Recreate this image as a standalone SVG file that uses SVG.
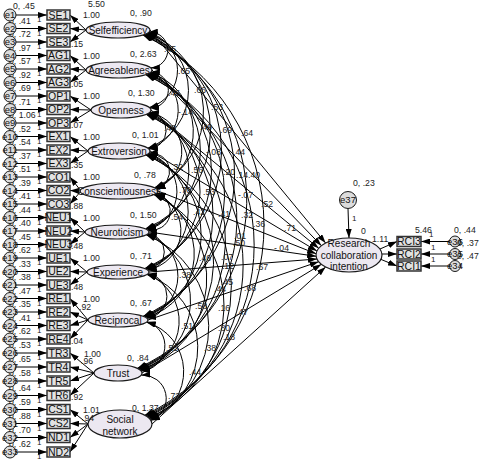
<svg xmlns="http://www.w3.org/2000/svg" width="479" height="460" viewBox="0 0 479 460">
<style>
text{font-family:"Liberation Sans",Arial,sans-serif;fill:#111}
.lat{fill:#ece8f1;stroke:#1a1a1a;stroke-width:1.2}
.obs{fill:#e2e2e2;stroke:#333;stroke-width:1.5}
.err{fill:#dcdcdc;stroke:#1a1a1a;stroke-width:1}
.arc{fill:none;stroke:#000;stroke-width:1;marker-start:url(#ah);marker-end:url(#ah)}
.arr{fill:none;stroke:#000;stroke-width:1;marker-end:url(#ah)}
.ln{font-size:10px;text-anchor:middle}
.on{font-size:10.5px;text-anchor:middle}
.en{font-size:9.5px;text-anchor:middle}
.n{font-size:8.7px;fill:#222}
.one{font-size:8px;fill:#222}
</style>
<defs>
<marker id="ah" markerUnits="userSpaceOnUse" markerWidth="9" markerHeight="6" refX="9" refY="3" orient="auto-start-reverse"><path d="M0,0 L9,3 L0,6 z" fill="#000"/></marker>
</defs>
<g id="connectors">
<line class="arr" x1="16" y1="15" x2="47" y2="15"/><line class="arr" x1="16" y1="28.5" x2="47" y2="28.5"/><line class="arr" x1="16" y1="42" x2="47" y2="42"/>
<line class="arr" x1="16" y1="55.5" x2="47" y2="55.5"/><line class="arr" x1="16" y1="69" x2="47" y2="69"/><line class="arr" x1="16" y1="82.5" x2="47" y2="82.5"/>
<line class="arr" x1="16" y1="96" x2="47" y2="96"/><line class="arr" x1="16" y1="109.5" x2="47" y2="109.5"/><line class="arr" x1="16" y1="123" x2="47" y2="123"/>
<line class="arr" x1="16" y1="136.5" x2="47" y2="136.5"/><line class="arr" x1="16" y1="150" x2="47" y2="150"/><line class="arr" x1="16" y1="163.5" x2="47" y2="163.5"/>
<line class="arr" x1="16" y1="177" x2="47" y2="177"/><line class="arr" x1="16" y1="190.5" x2="47" y2="190.5"/><line class="arr" x1="16" y1="204" x2="47" y2="204"/>
<line class="arr" x1="16" y1="217.5" x2="47" y2="217.5"/><line class="arr" x1="16" y1="231" x2="47" y2="231"/><line class="arr" x1="16" y1="244.5" x2="47" y2="244.5"/>
<line class="arr" x1="16" y1="258" x2="47" y2="258"/><line class="arr" x1="16" y1="271.5" x2="47" y2="271.5"/><line class="arr" x1="16" y1="285" x2="47" y2="285"/>
<line class="arr" x1="16" y1="298.5" x2="47" y2="298.5"/><line class="arr" x1="16" y1="312" x2="47" y2="312"/><line class="arr" x1="16" y1="325.5" x2="47" y2="325.5"/><line class="arr" x1="16" y1="339" x2="47" y2="339"/>
<line class="arr" x1="16" y1="353" x2="47" y2="353"/><line class="arr" x1="16" y1="367" x2="47" y2="367"/><line class="arr" x1="16" y1="381" x2="47" y2="381"/><line class="arr" x1="16" y1="395.5" x2="47" y2="395.5"/>
<line class="arr" x1="16" y1="409.5" x2="47" y2="409.5"/><line class="arr" x1="16" y1="423.5" x2="47" y2="423.5"/><line class="arr" x1="16" y1="437.5" x2="47" y2="437.5"/><line class="arr" x1="16" y1="452" x2="47" y2="452"/>
<line class="arr" x1="86" y1="30" x2="70" y2="15"/><line class="arr" x1="86" y1="30" x2="70" y2="28.5"/><line class="arr" x1="86" y1="30" x2="70" y2="42"/>
<line class="arr" x1="86" y1="70" x2="70" y2="55.5"/><line class="arr" x1="86" y1="70" x2="70" y2="69"/><line class="arr" x1="86" y1="70" x2="70" y2="82.5"/>
<line class="arr" x1="91" y1="110" x2="70" y2="96"/><line class="arr" x1="91" y1="110" x2="70" y2="109.5"/><line class="arr" x1="91" y1="110" x2="70" y2="123"/>
<line class="arr" x1="88" y1="151" x2="70" y2="136.5"/><line class="arr" x1="88" y1="151" x2="70" y2="150"/><line class="arr" x1="88" y1="151" x2="70" y2="163.5"/>
<line class="arr" x1="81" y1="191" x2="70" y2="177"/><line class="arr" x1="81" y1="191" x2="70" y2="190.5"/><line class="arr" x1="81" y1="191" x2="70" y2="204"/>
<line class="arr" x1="85" y1="232" x2="70" y2="217.5"/><line class="arr" x1="85" y1="232" x2="70" y2="231"/><line class="arr" x1="85" y1="232" x2="70" y2="244.5"/>
<line class="arr" x1="87" y1="272" x2="70" y2="258"/><line class="arr" x1="87" y1="272" x2="70" y2="271.5"/><line class="arr" x1="87" y1="272" x2="70" y2="285"/>
<line class="arr" x1="88" y1="320" x2="70" y2="298.5"/><line class="arr" x1="88" y1="320" x2="70" y2="312"/><line class="arr" x1="88" y1="320" x2="70" y2="325.5"/><line class="arr" x1="88" y1="320" x2="70" y2="339"/>
<line class="arr" x1="94" y1="373" x2="70" y2="353"/><line class="arr" x1="94" y1="373" x2="70" y2="367"/><line class="arr" x1="94" y1="373" x2="70" y2="381"/><line class="arr" x1="94" y1="373" x2="70" y2="395.5"/>
<line class="arr" x1="88" y1="424" x2="70" y2="409.5"/><line class="arr" x1="88" y1="424" x2="70" y2="423.5"/><line class="arr" x1="88" y1="424" x2="70" y2="437.5"/><line class="arr" x1="88" y1="424" x2="70" y2="452"/>
<path class="arc" d="M148.9,32.1 A17.9,17.9 0 0 1 150.9,67.9"/>
<path class="arc" d="M150.9,72.1 A17.9,17.9 0 0 1 150,107.9"/>
<path class="arc" d="M150,112.1 A18.5,18.5 0 0 1 148.9,148.9"/>
<path class="arc" d="M148.9,153.1 A18.4,18.4 0 0 1 156.7,188.9"/>
<path class="arc" d="M156.7,193.1 A19.1,19.1 0 0 1 147.9,230.2"/>
<path class="arc" d="M147.9,233.8 A18.3,18.3 0 0 1 147.9,270.2"/>
<path class="arc" d="M147.9,273.8 A22.4,22.4 0 0 1 147,318.2"/>
<path class="arc" d="M147,321.8 A25.1,25.1 0 0 1 141.2,370.9"/>
<path class="arc" d="M141.2,375.1 A23.4,23.4 0 0 1 150.9,420.4"/>
<path class="arc" d="M148.4,32.5 A38.9,38.9 0 0 1 149.5,107.5"/>
<path class="arc" d="M150.4,72.5 A39.5,39.5 0 0 1 148.5,148.5"/>
<path class="arc" d="M149.5,112.5 A39.6,39.6 0 0 1 156.1,188.5"/>
<path class="arc" d="M148.5,153.5 A39.6,39.6 0 0 1 147.4,229.8"/>
<path class="arc" d="M156.1,193.5 A39.9,39.9 0 0 1 147.5,269.8"/>
<path class="arc" d="M147.4,234.2 A43.7,43.7 0 0 1 146.5,317.8"/>
<path class="arc" d="M147.5,274.2 A50.8,50.8 0 0 1 140.8,370.5"/>
<path class="arc" d="M146.5,322.2 A51.4,51.4 0 0 1 150.4,419.7"/>
<path class="arc" d="M147.9,32.9 A61.2,61.2 0 0 1 148,148.1"/>
<path class="arc" d="M149.8,72.9 A61.2,61.2 0 0 1 155.4,188.1"/>
<path class="arc" d="M149,112.9 A62,62 0 0 1 146.9,229.5"/>
<path class="arc" d="M148,153.9 A61.4,61.4 0 0 1 147,269.5"/>
<path class="arc" d="M155.4,193.9 A65.9,65.9 0 0 1 146,317.5"/>
<path class="arc" d="M146.9,234.5 A72.6,72.6 0 0 1 140.4,370.1"/>
<path class="arc" d="M147,274.5 A77.6,77.6 0 0 1 149.9,419"/>
<path class="arc" d="M147.2,33.3 A83.1,83.1 0 0 1 154.6,187.7"/>
<path class="arc" d="M149.2,73.3 A84,84 0 0 1 146.2,229.2"/>
<path class="arc" d="M148.4,113.3 A84,84 0 0 1 146.3,269.2"/>
<path class="arc" d="M147.3,154.3 A87.9,87.9 0 0 1 145.4,317.2"/>
<path class="arc" d="M154.6,194.3 A94.9,94.9 0 0 1 139.9,369.7"/>
<path class="arc" d="M146.2,234.8 A99.5,99.5 0 0 1 149.2,418.3"/>
<path class="arc" d="M146.5,33.6 A106.1,106.1 0 0 1 145.5,228.8"/>
<path class="arc" d="M148.4,73.6 A106.1,106.1 0 0 1 145.6,268.8"/>
<path class="arc" d="M147.7,113.6 A110.6,110.6 0 0 1 144.7,316.8"/>
<path class="arc" d="M146.6,154.6 A117.1,117.1 0 0 1 139.4,369.4"/>
<path class="arc" d="M153.7,194.6 A121.7,121.7 0 0 1 148.5,417.6"/>
<path class="arc" d="M145.7,34 A128.2,128.2 0 0 1 144.8,268.5"/>
<path class="arc" d="M147.6,74 A132.7,132.7 0 0 1 144,316.5"/>
<path class="arc" d="M147,114 A139.8,139.8 0 0 1 138.8,369"/>
<path class="arc" d="M145.8,155 A143.7,143.7 0 0 1 147.7,417"/>
<path class="arc" d="M144.8,34.4 A154.9,154.9 0 0 1 143.2,316.2"/>
<path class="arc" d="M146.7,74.4 A161.9,161.9 0 0 1 138.1,368.6"/>
<path class="arc" d="M146.2,114.4 A166.3,166.3 0 0 1 146.8,416.4"/>
<path class="arc" d="M143.9,34.7 A184.2,184.2 0 0 1 137.4,368.3"/>
<path class="arc" d="M145.7,74.7 A188.4,188.4 0 0 1 145.9,415.8"/>
<path class="arc" d="M142.9,35 A210.5,210.5 0 0 1 144.9,415.2"/>
<line class="arr" x1="150" y1="30" x2="325.6" y2="243"/>
<line class="arr" x1="152" y1="70" x2="321.4" y2="245.7"/>
<line class="arr" x1="151" y1="110" x2="318.7" y2="248.3"/>
<line class="arr" x1="150" y1="151" x2="316.9" y2="251"/>
<line class="arr" x1="158" y1="191" x2="316.1" y2="253.7"/>
<line class="arr" x1="149" y1="232" x2="316.1" y2="256.3"/>
<line class="arr" x1="149" y1="272" x2="316.9" y2="259"/>
<line class="arr" x1="148" y1="320" x2="318.7" y2="261.7"/>
<line class="arr" x1="142" y1="373" x2="321.4" y2="264.3"/>
<line class="arr" x1="152" y1="424" x2="325.6" y2="267"/>
<line class="arr" x1="348" y1="208.5" x2="349" y2="238"/>
<line class="arr" x1="380" y1="249" x2="397" y2="241.5"/>
<line class="arr" x1="382" y1="254" x2="397" y2="254"/>
<line class="arr" x1="380" y1="259" x2="397" y2="266"/>
<line class="arr" x1="449.5" y1="241.5" x2="421" y2="241.5"/>
<line class="arr" x1="449.5" y1="254" x2="421" y2="254"/>
<line class="arr" x1="449.5" y1="266" x2="421" y2="266"/>
</g>
<g id="error-labels">
<text class="n" x="13" y="9">0, .45</text><text class="n" x="9" y="23.5">0, .41</text><text class="n" x="9" y="37">0, .72</text><text class="n" x="9" y="50.5">0, .97</text><text class="n" x="9" y="64">0, .57</text><text class="n" x="9" y="77.5">0, .92</text><text class="n" x="9" y="91">0, .69</text><text class="n" x="9" y="104.5">0, .71</text><text class="n" x="9" y="118">0, 1.06</text><text class="n" x="9" y="131.5">0, .52</text><text class="n" x="9" y="145">0, .54</text><text class="n" x="9" y="158.5">0, .37</text><text class="n" x="9" y="172">0, .51</text><text class="n" x="9" y="185.5">0, .39</text><text class="n" x="9" y="199">0, .41</text><text class="n" x="9" y="212.5">0, .44</text><text class="n" x="9" y="226">0, .40</text><text class="n" x="9" y="239.5">0, .45</text><text class="n" x="9" y="253">0, .62</text><text class="n" x="9" y="266.5">0, .33</text><text class="n" x="9" y="280">0, .38</text><text class="n" x="9" y="293.5">0, .47</text><text class="n" x="9" y="307">0, .35</text><text class="n" x="9" y="320.5">0, .41</text><text class="n" x="9" y="334">0, .62</text><text class="n" x="9" y="348">0, .53</text><text class="n" x="9" y="362">0, .65</text><text class="n" x="9" y="376">0, .58</text><text class="n" x="9" y="390.5">0, .64</text><text class="n" x="9" y="404.5">0, .59</text><text class="n" x="9" y="418.5">0, .88</text><text class="n" x="9" y="432.5">0, .70</text><text class="n" x="9" y="447">0, .62</text>
<text class="one" x="37" y="22">1</text><text class="one" x="37" y="35.5">1</text><text class="one" x="37" y="49">1</text><text class="one" x="37" y="62.5">1</text><text class="one" x="37" y="76">1</text><text class="one" x="37" y="89.5">1</text><text class="one" x="37" y="103">1</text><text class="one" x="37" y="116.5">1</text><text class="one" x="37" y="130">1</text><text class="one" x="37" y="143.5">1</text><text class="one" x="37" y="157">1</text><text class="one" x="37" y="170.5">1</text><text class="one" x="37" y="184">1</text><text class="one" x="37" y="197.5">1</text><text class="one" x="37" y="211">1</text><text class="one" x="37" y="224.5">1</text><text class="one" x="37" y="238">1</text><text class="one" x="37" y="251.5">1</text><text class="one" x="37" y="265">1</text><text class="one" x="37" y="278.5">1</text><text class="one" x="37" y="292">1</text><text class="one" x="37" y="305.5">1</text><text class="one" x="37" y="319">1</text><text class="one" x="37" y="332.5">1</text><text class="one" x="37" y="346">1</text><text class="one" x="37" y="360">1</text><text class="one" x="37" y="374">1</text><text class="one" x="37" y="388">1</text><text class="one" x="37" y="402.5">1</text><text class="one" x="37" y="416.5">1</text><text class="one" x="37" y="430.5">1</text><text class="one" x="37" y="444.5">1</text><text class="one" x="37" y="459">1</text>
</g>
<g id="Selfefficiency"><ellipse class="lat" cx="118" cy="30" rx="32" ry="8"/><text class="ln" x="118" y="33.6">Selfefficiency</text></g>
<g id="Agreeableness"><ellipse class="lat" cx="119" cy="70" rx="33" ry="8"/><text class="ln" x="119" y="73.6">Agreeablenes</text></g>
<g id="Openness"><ellipse class="lat" cx="121" cy="110" rx="30" ry="8"/><text class="ln" x="121" y="113.6">Openness</text></g>
<g id="Extroversion"><ellipse class="lat" cx="119" cy="151" rx="31" ry="8"/><text class="ln" x="119" y="154.6">Extroversion</text></g>
<g id="Conscientiousness"><ellipse class="lat" cx="119" cy="191" rx="39" ry="8"/><text class="ln" x="119" y="194.6">Conscientiousness</text></g>
<g id="Neuroticism"><ellipse class="lat" cx="117" cy="232" rx="32" ry="7"/><text class="ln" x="117" y="235.6">Neuroticism</text></g>
<g id="Experience"><ellipse class="lat" cx="118" cy="272" rx="31" ry="7"/><text class="ln" x="118" y="275.6">Experience</text></g>
<g id="Reciprocal"><ellipse class="lat" cx="118" cy="320" rx="30" ry="7"/><text class="ln" x="118" y="323.6">Reciprocal</text></g>
<g id="Trust"><ellipse class="lat" cx="118" cy="373" rx="24" ry="8"/><text class="ln" x="118" y="376.6">Trust</text></g>
<g id="SocialNetwork"><ellipse class="lat" cx="120" cy="424" rx="32" ry="14"/><text class="ln" x="120" y="423">Social</text><text class="ln" x="120" y="434.5">network</text></g>
<g id="RCI"><ellipse class="lat" cx="349" cy="255" rx="33" ry="17"/><text class="ln" x="349" y="246.5">Research</text><text class="ln" x="349" y="258.5">collaboration</text><text class="ln" x="349" y="269.5">intention</text></g>
<g id="e37"><circle class="err" cx="348" cy="200" r="8.5"/><text class="en" x="348" y="203.4">e37</text></g>
<g id="RCI3"><rect class="obs" x="397" y="236.5" width="24" height="10"/><text class="on" x="409" y="245.2">RCI3</text></g>
<g id="RCI2"><rect class="obs" x="397" y="249" width="24" height="10"/><text class="on" x="409" y="257.7">RCI2</text></g>
<g id="RCI1"><rect class="obs" x="397" y="261" width="24" height="10"/><text class="on" x="409" y="269.7">RCI1</text></g>
<g id="e36"><circle class="err" cx="455" cy="241.5" r="5.5"/><text class="en" x="455" y="244.9">e36</text></g>
<g id="e35"><circle class="err" cx="455" cy="254" r="5.5"/><text class="en" x="455" y="257.4">e35</text></g>
<g id="e34"><circle class="err" cx="455" cy="266" r="5.5"/><text class="en" x="455" y="269.4">e34</text></g>
<g id="SE1"><rect class="obs" x="47" y="10" width="23" height="10"/><text class="on" x="58.5" y="18.7">SE1</text></g>
<g id="SE2"><rect class="obs" x="47" y="23.5" width="23" height="10"/><text class="on" x="58.5" y="32.2">SE2</text></g>
<g id="SE3"><rect class="obs" x="47" y="37" width="23" height="10"/><text class="on" x="58.5" y="45.7">SE3</text></g>
<g id="AG1"><rect class="obs" x="47" y="50.5" width="23" height="10"/><text class="on" x="58.5" y="59.2">AG1</text></g>
<g id="AG2"><rect class="obs" x="47" y="64" width="23" height="10"/><text class="on" x="58.5" y="72.7">AG2</text></g>
<g id="AG3"><rect class="obs" x="47" y="77.5" width="23" height="10"/><text class="on" x="58.5" y="86.2">AG3</text></g>
<g id="OP1"><rect class="obs" x="47" y="91" width="23" height="10"/><text class="on" x="58.5" y="99.7">OP1</text></g>
<g id="OP2"><rect class="obs" x="47" y="104.5" width="23" height="10"/><text class="on" x="58.5" y="113.2">OP2</text></g>
<g id="OP3"><rect class="obs" x="47" y="118" width="23" height="10"/><text class="on" x="58.5" y="126.7">OP3</text></g>
<g id="EX1"><rect class="obs" x="47" y="131.5" width="23" height="10"/><text class="on" x="58.5" y="140.2">EX1</text></g>
<g id="EX2"><rect class="obs" x="47" y="145" width="23" height="10"/><text class="on" x="58.5" y="153.7">EX2</text></g>
<g id="EX3"><rect class="obs" x="47" y="158.5" width="23" height="10"/><text class="on" x="58.5" y="167.2">EX3</text></g>
<g id="CO1"><rect class="obs" x="47" y="172" width="23" height="10"/><text class="on" x="58.5" y="180.7">CO1</text></g>
<g id="CO2"><rect class="obs" x="47" y="185.5" width="23" height="10"/><text class="on" x="58.5" y="194.2">CO2</text></g>
<g id="CO3"><rect class="obs" x="47" y="199" width="23" height="10"/><text class="on" x="58.5" y="207.7">CO3</text></g>
<g id="NEU1"><rect class="obs" x="47" y="212.5" width="23" height="10"/><text class="on" x="58.5" y="221.2">NEU1</text></g>
<g id="NEU2"><rect class="obs" x="47" y="226" width="23" height="10"/><text class="on" x="58.5" y="234.7">NEU2</text></g>
<g id="NEU3"><rect class="obs" x="47" y="239.5" width="23" height="10"/><text class="on" x="58.5" y="248.2">NEU3</text></g>
<g id="UE1"><rect class="obs" x="47" y="253" width="23" height="10"/><text class="on" x="58.5" y="261.7">UE1</text></g>
<g id="UE2"><rect class="obs" x="47" y="266.5" width="23" height="10"/><text class="on" x="58.5" y="275.2">UE2</text></g>
<g id="UE3"><rect class="obs" x="47" y="280" width="23" height="10"/><text class="on" x="58.5" y="288.7">UE3</text></g>
<g id="RE1"><rect class="obs" x="47" y="293.5" width="23" height="10"/><text class="on" x="58.5" y="302.2">RE1</text></g>
<g id="RE2"><rect class="obs" x="47" y="307" width="23" height="10"/><text class="on" x="58.5" y="315.7">RE2</text></g>
<g id="RE3"><rect class="obs" x="47" y="320.5" width="23" height="10"/><text class="on" x="58.5" y="329.2">RE3</text></g>
<g id="RE4"><rect class="obs" x="47" y="334" width="23" height="10"/><text class="on" x="58.5" y="342.7">RE4</text></g>
<g id="TR3"><rect class="obs" x="47" y="348" width="23" height="10"/><text class="on" x="58.5" y="356.7">TR3</text></g>
<g id="TR4"><rect class="obs" x="47" y="362" width="23" height="10"/><text class="on" x="58.5" y="370.7">TR4</text></g>
<g id="TR5"><rect class="obs" x="47" y="376" width="23" height="10"/><text class="on" x="58.5" y="384.7">TR5</text></g>
<g id="TR6"><rect class="obs" x="47" y="390.5" width="23" height="10"/><text class="on" x="58.5" y="399.2">TR6</text></g>
<g id="CS1"><rect class="obs" x="47" y="404.5" width="23" height="10"/><text class="on" x="58.5" y="413.2">CS1</text></g>
<g id="CS2"><rect class="obs" x="47" y="418.5" width="23" height="10"/><text class="on" x="58.5" y="427.2">CS2</text></g>
<g id="ND1"><rect class="obs" x="47" y="432.5" width="23" height="10"/><text class="on" x="58.5" y="441.2">ND1</text></g>
<g id="ND2"><rect class="obs" x="47" y="447" width="23" height="10"/><text class="on" x="58.5" y="455.7">ND2</text></g>
<g id="e1"><circle class="err" cx="10" cy="15" r="6"/><text class="en" x="10" y="18.4">e1</text></g>
<g id="e2"><circle class="err" cx="10" cy="28.5" r="6"/><text class="en" x="10" y="31.9">e2</text></g>
<g id="e3"><circle class="err" cx="10" cy="42" r="6"/><text class="en" x="10" y="45.4">e3</text></g>
<g id="e4"><circle class="err" cx="10" cy="55.5" r="6"/><text class="en" x="10" y="58.9">e4</text></g>
<g id="e5"><circle class="err" cx="10" cy="69" r="6"/><text class="en" x="10" y="72.4">e5</text></g>
<g id="e6"><circle class="err" cx="10" cy="82.5" r="6"/><text class="en" x="10" y="85.9">e6</text></g>
<g id="e7"><circle class="err" cx="10" cy="96" r="6"/><text class="en" x="10" y="99.4">e7</text></g>
<g id="e8"><circle class="err" cx="10" cy="109.5" r="6"/><text class="en" x="10" y="112.9">e8</text></g>
<g id="e9"><circle class="err" cx="10" cy="123" r="6"/><text class="en" x="10" y="126.4">e9</text></g>
<g id="e10"><circle class="err" cx="10" cy="136.5" r="6"/><text class="en" x="10" y="139.9">e10</text></g>
<g id="e11"><circle class="err" cx="10" cy="150" r="6"/><text class="en" x="10" y="153.4">e11</text></g>
<g id="e12"><circle class="err" cx="10" cy="163.5" r="6"/><text class="en" x="10" y="166.9">e12</text></g>
<g id="e13"><circle class="err" cx="10" cy="177" r="6"/><text class="en" x="10" y="180.4">e13</text></g>
<g id="e14"><circle class="err" cx="10" cy="190.5" r="6"/><text class="en" x="10" y="193.9">e14</text></g>
<g id="e15"><circle class="err" cx="10" cy="204" r="6"/><text class="en" x="10" y="207.4">e15</text></g>
<g id="e16"><circle class="err" cx="10" cy="217.5" r="6"/><text class="en" x="10" y="220.9">e16</text></g>
<g id="e17"><circle class="err" cx="10" cy="231" r="6"/><text class="en" x="10" y="234.4">e17</text></g>
<g id="e18"><circle class="err" cx="10" cy="244.5" r="6"/><text class="en" x="10" y="247.9">e18</text></g>
<g id="e19"><circle class="err" cx="10" cy="258" r="6"/><text class="en" x="10" y="261.4">e19</text></g>
<g id="e20"><circle class="err" cx="10" cy="271.5" r="6"/><text class="en" x="10" y="274.9">e20</text></g>
<g id="e21"><circle class="err" cx="10" cy="285" r="6"/><text class="en" x="10" y="288.4">e21</text></g>
<g id="e22"><circle class="err" cx="10" cy="298.5" r="6"/><text class="en" x="10" y="301.9">e22</text></g>
<g id="e23"><circle class="err" cx="10" cy="312" r="6"/><text class="en" x="10" y="315.4">e23</text></g>
<g id="e24"><circle class="err" cx="10" cy="325.5" r="6"/><text class="en" x="10" y="328.9">e24</text></g>
<g id="e25"><circle class="err" cx="10" cy="339" r="6"/><text class="en" x="10" y="342.4">e25</text></g>
<g id="e26"><circle class="err" cx="10" cy="353" r="6"/><text class="en" x="10" y="356.4">e26</text></g>
<g id="e27"><circle class="err" cx="10" cy="367" r="6"/><text class="en" x="10" y="370.4">e27</text></g>
<g id="e28"><circle class="err" cx="10" cy="381" r="6"/><text class="en" x="10" y="384.4">e28</text></g>
<g id="e29"><circle class="err" cx="10" cy="395.5" r="6"/><text class="en" x="10" y="398.9">e29</text></g>
<g id="e30"><circle class="err" cx="10" cy="409.5" r="6"/><text class="en" x="10" y="412.9">e30</text></g>
<g id="e31"><circle class="err" cx="10" cy="423.5" r="6"/><text class="en" x="10" y="426.9">e31</text></g>
<g id="e32"><circle class="err" cx="10" cy="437.5" r="6"/><text class="en" x="10" y="440.9">e32</text></g>
<g id="e33"><circle class="err" cx="10" cy="452" r="6"/><text class="en" x="10" y="455.4">e33</text></g>
<g id="labels">
<text class="n" x="88" y="7">5.50</text>
<text class="n" x="83" y="18">1.00</text><text class="n" x="83" y="58.5">1.00</text><text class="n" x="83" y="99">1.00</text><text class="n" x="83" y="139.5">1.00</text><text class="n" x="83" y="180">1.00</text><text class="n" x="83" y="220.5">1.00</text><text class="n" x="83" y="261">1.00</text><text class="n" x="83" y="301.5">1.00</text><text class="n" x="84" y="357">1.00</text><text class="n" x="83" y="412.5">1.01</text>
<text class="n" x="71" y="46.5">.15</text><text class="n" x="71" y="87">.05</text><text class="n" x="71" y="127.5">.07</text><text class="n" x="71" y="168">.35</text><text class="n" x="71" y="208.5">.88</text><text class="n" x="71" y="249">.48</text><text class="n" x="71" y="289.5">.48</text><text class="n" x="71" y="343.5">.04</text><text class="n" x="71" y="400">.92</text>
<text class="n" x="79" y="310">.92</text><text class="n" x="81" y="364">.96</text><text class="n" x="82" y="421">.94</text>
<text class="n" x="130" y="16">0, .90</text><text class="n" x="130" y="57">0, 2.63</text><text class="n" x="128" y="96">0, 1.30</text><text class="n" x="132" y="138">0, 1.01</text><text class="n" x="134" y="178">0, .78</text><text class="n" x="130" y="218">0, 1.50</text><text class="n" x="130" y="259">0, .71</text><text class="n" x="130" y="306">0, .67</text><text class="n" x="127" y="361">0, .84</text><text class="n" x="132" y="411">0, 1.37</text>
<text class="n" x="164" y="52">.45</text><text class="n" x="178" y="74">.65</text><text class="n" x="194" y="93">.66</text><text class="n" x="168" y="96">.46</text><text class="n" x="211" y="110">.53</text><text class="n" x="178" y="115">-.14</text><text class="n" x="200" y="130">.49</text><text class="n" x="220" y="133">.69</text><text class="n" x="241" y="136">.64</text><text class="n" x="164" y="131">.48</text><text class="n" x="206" y="155">-.08</text><text class="n" x="233" y="155">.44</text>
<text class="n" x="171" y="170">.32</text><text class="n" x="191" y="173">.56</text><text class="n" x="223" y="175">.20</text><text class="n" x="236" y="178">.14</text><text class="n" x="248" y="178">.40</text><text class="n" x="179" y="193">.70</text><text class="n" x="203" y="195">.53</text><text class="n" x="238" y="198">-.07</text><text class="n" x="261" y="207">.52</text><text class="n" x="193" y="215">.42</text><text class="n" x="218" y="217">.41</text><text class="n" x="241" y="218">.32</text><text class="n" x="253" y="227">.36</text><text class="n" x="284" y="231">.71</text><text class="n" x="171" y="220">.54</text><text class="n" x="234" y="239">.01</text><text class="n" x="233" y="246">.50</text><text class="n" x="274" y="251">-.04</text><text class="n" x="199" y="261">.46</text><text class="n" x="221" y="260">.07</text><text class="n" x="219" y="269">-.12</text><text class="n" x="256" y="270">.67</text><text class="n" x="179" y="278">.38</text><text class="n" x="221" y="285">.45</text><text class="n" x="214" y="292">.44</text><text class="n" x="244" y="291">.68</text>
<text class="n" x="195" y="309">.58</text><text class="n" x="218" y="311">.16</text><text class="n" x="236" y="315">.47</text><text class="n" x="181" y="329">.51</text><text class="n" x="218" y="331">.80</text><text class="n" x="223" y="340">.18</text><text class="n" x="204" y="351">.38</text><text class="n" x="166" y="351">.55</text><text class="n" x="189" y="375">.44</text><text class="n" x="168" y="399">.72</text>
<text class="n" x="353" y="186">0, .23</text><text class="one" x="352" y="221">1</text><text class="n" x="361" y="234">0</text><text class="n" x="372" y="242">1.11</text><text class="n" x="415" y="233">5.46</text><text class="one" x="429" y="237">1</text><text class="one" x="431" y="250">1</text><text class="one" x="431" y="262">1</text>
<text class="n" x="454" y="233">0, .44</text><text class="n" x="457" y="246">0, .37</text><text class="n" x="457" y="258.5">0, .47</text>
</g>
</svg>
